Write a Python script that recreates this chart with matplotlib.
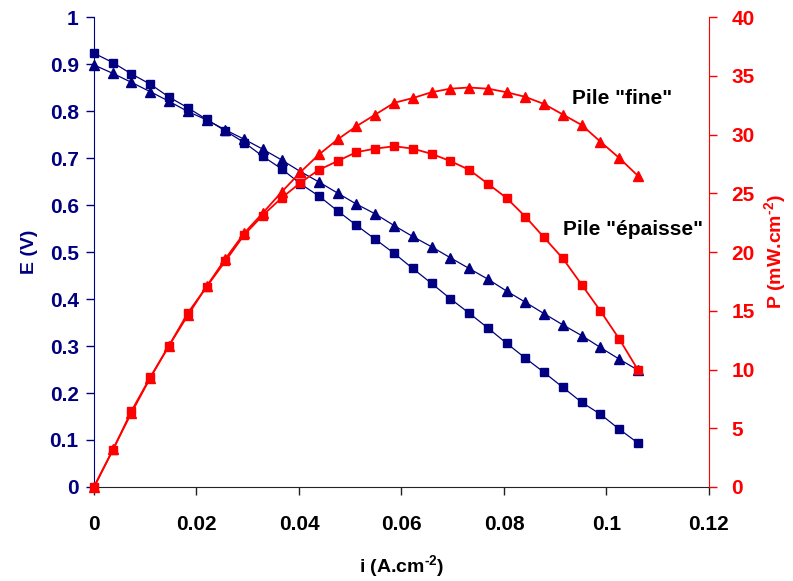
import matplotlib
matplotlib.use('Agg')
import matplotlib.pyplot as plt

plt.rcParams['font.family'] = ['Liberation Sans', 'DejaVu Sans']
plt.rcParams['font.weight'] = 'bold'
plt.rcParams['mathtext.fontset'] = 'custom'
plt.rcParams['mathtext.rm'] = 'Liberation Sans:bold'
plt.rcParams['mathtext.bf'] = 'Liberation Sans:bold'

NAVY = '#000080'
RED = '#FF0000'

# densité de courant (A.cm-2)
courant = [0.0, 0.0037, 0.0073, 0.0110, 0.0146, 0.0183, 0.0220, 0.0256, 0.0293, 0.0329,
           0.0366, 0.0403, 0.0439, 0.0476, 0.0512, 0.0549, 0.0586, 0.0622, 0.0659, 0.0695,
           0.0732, 0.0769, 0.0805, 0.0842, 0.0878, 0.0915, 0.0952, 0.0988, 0.1025, 0.1061]

# tension (V)
E_fine = [0.898, 0.880, 0.861, 0.841, 0.821, 0.799, 0.781, 0.760, 0.740, 0.719,
          0.696, 0.671, 0.649, 0.625, 0.602, 0.581, 0.556, 0.533, 0.511, 0.488,
          0.465, 0.442, 0.417, 0.393, 0.369, 0.345, 0.322, 0.297, 0.272, 0.249]
E_epaisse = [0.923, 0.903, 0.879, 0.857, 0.830, 0.807, 0.782, 0.758, 0.733, 0.704,
             0.677, 0.645, 0.619, 0.587, 0.557, 0.527, 0.497, 0.465, 0.433, 0.401,
             0.370, 0.338, 0.306, 0.274, 0.244, 0.212, 0.180, 0.155, 0.123, 0.094]

# puissance (mW.cm-2)
P_fine = [0.0, 3.2, 6.3, 9.3, 12.0, 14.6, 17.1, 19.4, 21.6, 23.3,
          25.1, 26.8, 28.3, 29.6, 30.7, 31.7, 32.7, 33.1, 33.6, 33.9,
          34.0, 33.9, 33.6, 33.2, 32.6, 31.7, 30.8, 29.4, 28.0, 26.5]
P_epaisse = [0.0, 3.15, 6.45, 9.35, 12.0, 14.8, 17.05, 19.2, 21.45, 23.1,
             24.6, 25.9, 27.0, 27.75, 28.5, 28.8, 29.0, 28.8, 28.35, 27.75,
             27.0, 25.8, 24.6, 23.0, 21.25, 19.45, 17.2, 15.0, 12.6, 10.0]

fig = plt.figure(figsize=(7.93, 5.81), dpi=100)
ax = fig.add_axes([0.1185, 0.1618, 0.7755, 0.8089])
ax2 = ax.twinx()

# courbes E
ax.plot(courant, E_epaisse, color=NAVY, lw=0.9, marker='s', ms=6, clip_on=False, zorder=3)
ax.plot(courant, E_fine, color=NAVY, lw=0.9, marker='^', ms=7, clip_on=False, zorder=3)

# courbes P
ax2.plot(courant, P_epaisse, color=RED, lw=1.3, marker='s', ms=6, clip_on=False, zorder=3)
ax2.plot(courant, P_fine, color=RED, lw=1.3, marker='^', ms=7, clip_on=False, zorder=3)

ax.set_xlim(0, 0.12)
ax.set_ylim(0, 1)
ax2.set_ylim(0, 40)
ax.set_xticks([0, 0.02, 0.04, 0.06, 0.08, 0.1, 0.12])
ax.set_xticklabels(['0', '0.02', '0.04', '0.06', '0.08', '0.1', '0.12'])
ax.set_yticks([i / 10 for i in range(11)])
ax.set_yticklabels(['0', '0.1', '0.2', '0.3', '0.4', '0.5', '0.6', '0.7', '0.8', '0.9', '1'])
ax2.set_yticks(range(0, 41, 5))

for a in (ax, ax2):
    a.spines['top'].set_visible(False)
ax.spines['right'].set_visible(False)
ax2.spines['left'].set_visible(False)
ax2.spines['bottom'].set_visible(False)
ax.spines['left'].set_color(NAVY)
ax2.spines['right'].set_color(RED)
ax.spines['bottom'].set_color('#222222')

ax.tick_params(axis='y', colors=NAVY, labelsize=15, length=6, width=1, pad=5)
ax.tick_params(axis='x', colors='#222222', labelcolor='black', labelsize=15, length=6, width=1, pad=14)
ax2.tick_params(axis='y', colors=RED, labelsize=15, length=6, width=1, pad=10)

ax.set_ylabel('E (V)', color=NAVY, fontsize=14, fontweight='bold', labelpad=8)
ax2.set_ylabel('P (mW.cm$^{\\text{-2}}$)', color=RED, fontsize=14, fontweight='bold', labelpad=6)
ax.set_xlabel('i (A.cm$^{\\text{-2}}$)', color='black', fontsize=14, fontweight='bold', labelpad=14)

ax2.text(0.0933, 33.1, 'Pile "fine"', fontsize=15, fontweight='bold', color='black', va='center')
ax2.text(0.0915, 21.9, 'Pile "épaisse"', fontsize=15, fontweight='bold', color='black', va='center')

fig.savefig('out.png', dpi=100)
